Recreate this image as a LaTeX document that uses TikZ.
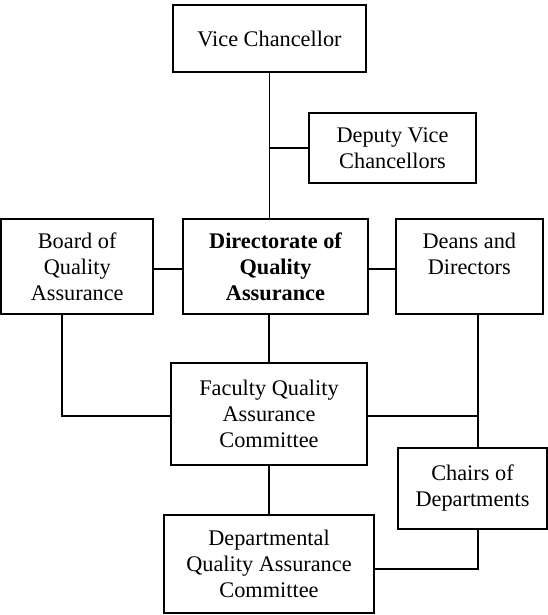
\documentclass[tikz,border=0pt]{standalone}
\usepackage{fontspec}
\setmainfont{Liberation Serif}
\usepackage{tikz}
\usetikzlibrary{positioning}

\tikzset{
  unit/.style={draw, line width=1.8pt, align=center, inner sep=0pt,
    font=\fontsize{22.3}{26}\selectfont},
  link/.style={line width=1.8pt}
}

\begin{document}
\begin{tikzpicture}[x=1pt, y=-1pt]
    \useasboundingbox (0,0) rectangle (548,615);

    % top of the chart
    \node[unit, minimum width=193pt, minimum height=67pt] (vc) at (269.5,38.5) {Vice Chancellor};
    \node[unit, minimum width=167pt, minimum height=70pt] (dvc) at (392.5,148) {Deputy Vice\\Chancellors};

    % middle row
    \node[unit, minimum width=185pt, minimum height=95pt, font=\fontsize{22.3}{26}\selectfont\bfseries] (dqa) at (275.5,266.5) {Directorate of\\Quality\\Assurance};
    \node[unit, minimum width=152pt, minimum height=95pt, left=28pt of dqa] (bqa) {Board of\\Quality\\Assurance};
    \node[unit, minimum width=147pt, minimum height=95pt, right=26pt of dqa] (deans) {Deans and\\Directors\\~};

    % committees
    \node[unit, minimum width=196pt, minimum height=102pt] (fqac) at (269,414) {Faculty Quality\\Assurance\\Committee};
    \node[unit, minimum width=149pt, minimum height=81pt] (chairs) at (472.5,488.5) {Chairs of\\Departments};
    \node[unit, minimum width=210pt, minimum height=98pt] (dqac) at (269,564) {Departmental\\Quality Assurance\\Committee};

    \coordinate (rail) at ([xshift=8.5pt]deans.south);

    \draw[link] (vc.south) -- (vc.south |- dqa.north);
    \draw[link] (vc.south |- dvc.west) -- (dvc.west);
    \draw[link] ([yshift=-2.5pt]bqa.east) -- ([yshift=-2.5pt]dqa.west);
    \draw[link] ([yshift=-2.5pt]dqa.east) -- ([yshift=-2.5pt]deans.west);
    \draw[link] (fqac.north |- dqa.south) -- (fqac.north);
    \draw[link] ([xshift=-15pt]bqa.south) |- ([yshift=-2pt]fqac.west);
    \draw[link] (rail) -- (rail |- chairs.north);
    \draw[link] ([yshift=-2pt]fqac.east) -- ([yshift=-2pt]rail |- fqac.east);
    \draw[link] (fqac.south) -- (dqac.north);
    \draw[link] ([yshift=-5pt]dqac.east) -| (rail |- chairs.south);
\end{tikzpicture}
\end{document}
